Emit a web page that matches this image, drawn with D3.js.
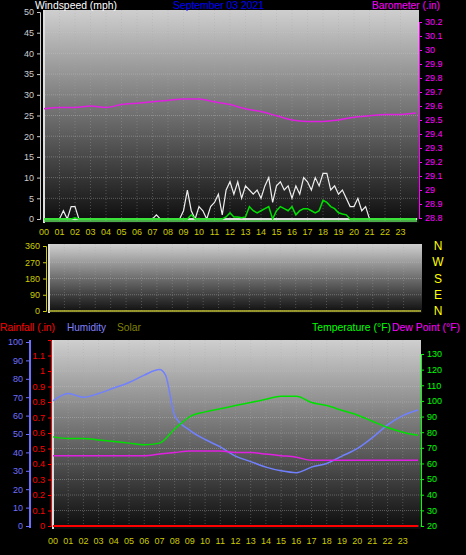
<!DOCTYPE html><html><head><meta charset="utf-8">
<script src="https://cdn.jsdelivr.net/npm/d3@7"></script>
<style>body{margin:0;background:#000}svg{display:block;font-family:"Liberation Sans",sans-serif}</style></head><body>
<script>
const hours=d3.range(0,24);
const hourLabels=hours.map(h=>String(h).padStart(2,"0"));
// wind, 0.25h steps starting 0
const gust=[0,0,0,0,0,2,0,3,3,0,0,0,0,0,0,0,0,0,0,0,0,0,0,0,0,0,0,0,0,1,0,0,0,0,0,0,2,7,2,0,3,2,0,3,4,6,1,7,9,6,9,5,8,7,6,7,5,8,10,4,8,9,7,8,5,8,6,10,9,7,10,8,11,11,7,8,6,7,5,3,3,5,2,3,0,0,0,0,0,0,0,0,0,0,0,0,0];
const avgWind=[0,0,0,0,0,0,0,0,0.3,0,0,0,0,0,0,0,0,0,0,0,0,0,0,0,0,0,0,0,0,0,0,0,0,0,0,0,0,0,1,0,0,0,0,0,0,0,0,0.5,1.5,0.5,0.5,0.3,0.5,3,2,1.5,2,2.5,3,0,2,3,2.5,2,3,1,2,2.5,2.5,2,1.5,2,4.5,4,3,2.5,1.5,1.2,1,0,0,0,0,0,0,0,0,0,0,0,0,0,0,0,0,0,0];
const baro=[29.58,29.59,29.59,29.60,29.59,29.61,29.62,29.63,29.64,29.65,29.65,29.63,29.61,29.58,29.56,29.53,29.50,29.49,29.49,29.50,29.52,29.53,29.54,29.54,29.55];
const humT=[0,1,2,3,4,5,6,7,7.4,8,9,10,11,12,13,14,15,16,17,18,19,20,21,22,23,24];
const hum=[68,72,70,72,75,78,82,85,82,60,52,47,43,38,35,32,30,29,32,34,38,42,48,55,60,63];
const temp=[77,76,76,75,74,73,72,73,82,90,93,95,97,99,101,103,103,99,97,94,91,87,83,80,78];
const dew=[65,65,65,65,65,65,65,66,67,68,68,68,67,67,66,65,64,62,62,62,62,62,62,62,62];
const rain=d3.range(0,25).map(()=>0);
const windTicks=d3.range(0,51,5), baroTicks=d3.range(28.8,30.21,0.1).map(v=>+v.toFixed(1));
const dirTicks=[0,90,180,270,360], dirLabels=["N","E","S","W","N"];
const humTicks=d3.range(0,101,10), rainTicks=d3.range(0,1.11,0.1).map(v=>+v.toFixed(1)), tempTicks=d3.range(20,131,10);

const W=466,H=555;
const svg=d3.select("body").append("svg").attr("width",W).attr("height",H);
const defs=svg.append("defs");
const g=defs.append("linearGradient").attr("id","bg").attr("x1",0).attr("y1",0).attr("x2",0).attr("y2",1);
g.append("stop").attr("offset",0).attr("stop-color","#cfcfcf");
g.append("stop").attr("offset",1).attr("stop-color","#0c0c0c");
svg.append("rect").attr("width",W).attr("height",H).attr("fill","#000");

function panel(x0,x1,y0,y1,ys,ticks){
  svg.append("rect").attr("x",x0).attr("y",y0).attr("width",x1-x0).attr("height",y1-y0).attr("fill","url(#bg)");
  const xs=d3.scaleLinear().domain([0,24]).range([x0+1,x1-3]);
  hours.forEach(h=>svg.append("line").attr("x1",xs(h)).attr("x2",xs(h)).attr("y1",y0).attr("y2",y1).attr("stroke","#aaa").attr("stroke-opacity",0.35).attr("stroke-dasharray","1,2"));
  ticks.forEach(t=>svg.append("line").attr("x1",x0).attr("x2",x1).attr("y1",ys(t)).attr("y2",ys(t)).attr("stroke","#ccc").attr("stroke-opacity",0.35).attr("stroke-dasharray","1,1"));
  svg.append("line").attr("x1",x0+1).attr("x2",x0+1).attr("y1",y0).attr("y2",y1).attr("stroke","#ddd").attr("stroke-width",2);
  return xs;
}
function hourAxis(xs,y){
  hours.forEach(h=>svg.append("text").attr("x",xs(h)).attr("y",y).attr("text-anchor","middle").attr("font-size",9).attr("fill","#cccc00").text(hourLabels[h]));
}
function yAx(x,ys,ticks,col,fmt,side){
  const ax=side<0?d3.axisLeft(ys):d3.axisRight(ys);
  const gg=svg.append("g").attr("transform",`translate(${x},0)`).call(ax.tickValues(ticks).tickSize(3).tickFormat(fmt));
  gg.selectAll("text").attr("fill",col).attr("font-size",9).attr("font-family","Liberation Sans");
  gg.selectAll("line").attr("stroke",col);gg.select(".domain").attr("stroke",col);
}
function label(x,y,t,col,len){
  svg.append("text").attr("x",x).attr("y",y).attr("font-size",11).attr("fill",col).attr("textLength",len).attr("lengthAdjust","spacingAndGlyphs").text(t);
}
// top panel
const wy=d3.scaleLinear().domain([0,50]).range([219,12]);
const by=d3.scaleLinear().domain([28.8,30.2]).range([218,22]);
const xt=panel(43,419,10,223,wy,windTicks);
label(35,9,"Windspeed (mph)","#fff",82);
label(173,9,"September 03 2021","#0000ff",91);
label(372,9,"Barometer (.in)","#ff00ff",68);
yAx(40,wy,windTicks,"#ccc",d=>d,-1);
yAx(419,by,baroTicks,"#ff00ff",d=>d3.format("")(d),1);
svg.append("line").attr("x1",44).attr("x2",417).attr("y1",wy(0)).attr("y2",wy(0)).attr("stroke","#ddd").attr("stroke-width",2);
const qx=i=>i*0.25;
svg.append("path").datum(gust).attr("fill","none").attr("stroke","#eee").attr("stroke-width",1.2)
 .attr("d",d3.line().x((d,i)=>xt(qx(i))).y(d=>wy(d)));
svg.append("path").datum(avgWind).attr("fill","none").attr("stroke","#00e000").attr("stroke-width",1.5)
 .attr("d",d3.line().x((d,i)=>xt(qx(i))).y(d=>wy(d)));
svg.append("line").attr("x1",44).attr("x2",417).attr("y1",221).attr("y2",221).attr("stroke","#60e060").attr("stroke-width",1.5);
svg.append("path").datum(baro).attr("fill","none").attr("stroke","#e020e0").attr("stroke-width",1.5)
 .attr("d",d3.line().x((d,i)=>xt(i)).y(d=>by(d)).curve(d3.curveMonotoneX));
hourAxis(xt,235);
// middle panel
const dy=d3.scaleLinear().domain([0,360]).range([311,246]);
const xm=panel(48,422,244,313,dy,dirTicks);
yAx(46,dy,dirTicks,"#cccc00",d=>d,-1);
svg.append("line").attr("x1",49).attr("x2",421).attr("y1",311).attr("y2",311).attr("stroke","#bbbb30").attr("stroke-width",1.5);
dirLabels.forEach((l,i)=>svg.append("text").attr("x",438).attr("y",dy(dirTicks[i])+4).attr("text-anchor","middle").attr("font-size",12).attr("fill","#ffff00").text(l));
// bottom
label(0,331,"Rainfall (.in)","#ff0000",55);
label(67,331,"Humidity","#8080ff",39);
label(117,331,"Solar","#808000",24);
label(312,331,"Temperature (°F)","#00ff00",79);
label(392,331,"Dew Point (°F)","#ff00ff",68);
const hy=d3.scaleLinear().domain([0,100]).range([526,342]);
const ry=d3.scaleLinear().domain([0,1.2]).range([526,340]);
const ty=d3.scaleLinear().domain([20,130]).range([526,354]);
const xb=panel(52,421,340,529,ry,rainTicks);
yAx(29,hy,humTicks,"#7070ff",d=>d,-1);
svg.append("line").attr("x1",30).attr("x2",30).attr("y1",340).attr("y2",528).attr("stroke","#7070ff").attr("stroke-width",2);
yAx(51,ry,rainTicks,"#ff0000",d=>d,-1);
yAx(421,ty,tempTicks,"#00ff00",d=>d,1);
svg.append("path").datum(rain).attr("fill","none").attr("stroke","#ff0000").attr("stroke-width",2)
 .attr("d",d3.line().x((d,i)=>xb(i)).y(d=>ry(d)));
svg.append("path").datum(hum).attr("fill","none").attr("stroke","#7080ff").attr("stroke-width",1.5)
 .attr("d",d3.line().x((d,i)=>xb(humT[i])).y(d=>hy(d)).curve(d3.curveMonotoneX));
svg.append("path").datum(temp).attr("fill","none").attr("stroke","#00e000").attr("stroke-width",1.5)
 .attr("d",d3.line().x((d,i)=>xb(i)).y(d=>ty(d)).curve(d3.curveMonotoneX));
svg.append("path").datum(dew).attr("fill","none").attr("stroke","#e020e0").attr("stroke-width",1.5)
 .attr("d",d3.line().x((d,i)=>xb(i)).y(d=>ty(d)).curve(d3.curveMonotoneX));
hourAxis(xb,544);
</script></body></html>
